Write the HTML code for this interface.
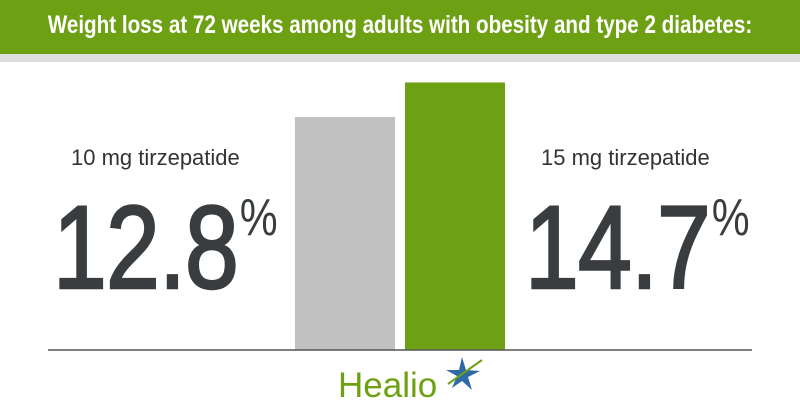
<!DOCTYPE html>
<html><head><meta charset="utf-8"><style>
html,body{margin:0;padding:0;width:800px;height:420px;background:#fff;overflow:hidden;font-family:"Liberation Sans",sans-serif}
.hdr{position:absolute;left:0;top:0;width:800px;height:54px;background:#6ea013}
.band{position:absolute;left:0;top:54px;width:800px;height:8px;background:#dedede}
.title{position:absolute;left:-200px;top:11px;width:1200px;text-align:center;color:#fff;font-weight:bold;font-size:25px;transform:scaleX(0.825);transform-origin:600px 0;white-space:nowrap}
.lbl{position:absolute;font-size:22px;color:#333;white-space:nowrap}
.big{position:absolute;font-size:118px;color:#3a3d3f;-webkit-text-stroke:2.5px #3a3d3f;white-space:nowrap;letter-spacing:-1px;transform:scaleX(0.82);transform-origin:0 0}
.big sup{font-size:52px;-webkit-text-stroke:0;vertical-align:top;position:relative;top:8px;letter-spacing:0;margin-left:2px}
</style></head><body>
<div class="hdr"></div>
<div class="band"></div>
<div class="title">Weight loss at 72 weeks among adults with obesity and type 2 diabetes:</div>
<div class="lbl" style="left:71px;top:145px">10 mg tirzepatide</div>
<div class="big" style="left:53px;top:180px">12.8<sup>%</sup></div>
<div class="lbl" style="left:541px;top:145px">15 mg tirzepatide</div>
<div class="big" style="left:525px;top:180px">14.7<sup>%</sup></div>
<svg id="chart" width="800" height="420" style="position:absolute;left:0;top:0">
<line x1="48" y1="350" x2="752" y2="350" stroke="#555" stroke-width="1.5"/>
<text x="338" y="397" font-family="Liberation Sans, sans-serif" font-size="35" fill="#6ea013">Healio</text>
<g transform="translate(462,374)">
<polygon points="0,-17 4,-4 18,-3 6,3 10,16 0,7 -10,14 -5,2 -16,-4 -3,-4" fill="#2d6aa6"/>
<line x1="-14" y1="10" x2="20" y2="-14" stroke="#6ea013" stroke-width="2"/>
</g>
</svg>
<script>
const categories=["10 mg tirzepatide","15 mg tirzepatide"];
const values=[12.8,14.7];
const colors=["#c1c1c1","#6ea013"];
const svg=document.getElementById('chart');
const base=350, scale=18.2, x0=295, bw=100, gap=10;
function y(v){return base-v*scale;}
values.forEach((v,i)=>{
  const r=document.createElementNS('http://www.w3.org/2000/svg','rect');
  r.setAttribute('x',x0+i*(bw+gap));
  r.setAttribute('y',y(v));
  r.setAttribute('width',bw);
  r.setAttribute('height',base-y(v));
  r.setAttribute('fill',colors[i]);
  
  
  svg.insertBefore(r,svg.firstChild);
});
</script>
</body></html>
